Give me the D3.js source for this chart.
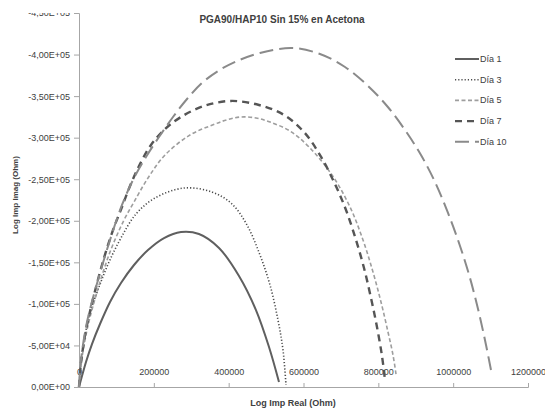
<!DOCTYPE html>
<html>
<head>
<meta charset="utf-8">
<script src="https://cdn.jsdelivr.net/npm/d3@7"></script>
<style>
  body { margin: 0; background: #fff; }
  text { font-family: "Liberation Sans", Arial, sans-serif; fill: #404040; }
</style>
</head>
<body>
<div id="chart-container"></div>
<script>
// values: [real, imag]
const dia1 = [[0,0],[8000,-13200],[18700,-30100],[34700,-51700],[56100,-75800],[82900,-102300],
  [112200,-125100],[147000,-146800],[184400,-164800],[227200,-179200],[272600,-186500],
  [320700,-184100],[374200,-167300],[427600,-133600],[473000,-92600],[507800,-48100],[534500,-6000]];
const dia3 = [[0,0],[5300,-30100],[16000,-62600],[32100,-92600],[53500,-120300],[80200,-150400],
  [112200,-179300],[152300,-208200],[203100,-227400],[280600,-239400],[355500,-234600],
  [408900,-220200],[449000,-194900],[483700,-158800],[510500,-122700],[531800,-80600],
  [545200,-44500],[553200,-2400]];
const dia5 = [[0,0],[5300,-26500],[21400,-68600],[48100,-114300],[82900,-162400],[120300,-200900],
  [147000,-222600],[184400,-251500],[229800,-279100],[296700,-303200],[363500,-316400],
  [398200,-321900],[433000,-324900],[473000,-323700],[510500,-318800],[563900,-308000],
  [614700,-288800],[676200,-255100],[724300,-216600],
  [759000,-176900],[785700,-138400],[807100,-102300],[825800,-66200],[839200,-38500],[847200,-15600]];
const dia7 = [[0,0],[5300,-28900],[18700,-68600],[40100,-110700],[66800,-155200],[90900,-188900],
  [114900,-216600],[136300,-241800],[163000,-268300],[192400,-291200],[229800,-310400],
  [272600,-324900],[334100,-338100],[406200,-344200],[481100,-339300],[547900,-327300],
  [601300,-306800],[644100,-279100],[681500,-246700],[713600,-213000],[740300,-176900],
  [761700,-143200],[780400,-107100],[796400,-72200],[809800,-37300],[817800,-8400]];
const dia10 = [[0,0],[5300,-32500],[21400,-78200],[50800,-128700],[82900,-176900],[114900,-219000],
  [144300,-249100],[179000,-276700],[213800,-300800],[251200,-324900],[288700,-346500],
  [328700,-365800],[371500,-380200],[422300,-392200],[483700,-401900],[569300,-407900],
  [644100,-400700],[710900,-385000],[769700,-363400],[823200,-338100],[871300,-309200],
  [914000,-279100],[951400,-246700],[986200,-209400],[1018300,-169700],[1045000,-131100],
  [1069000,-89000],[1087800,-50500],[1101100,-20500]];

const seriesNames = ["Día 1", "Día 3", "Día 5", "Día 7", "Día 10"];
const yTicks = [0,-50000,-100000,-150000,-200000,-250000,-300000,-350000,-400000,-450000];
const xTicks = [0,200000,400000,600000,800000,1000000,1200000];

const series = [
  { name: seriesNames[0], data: dia1, color: "#5f5f5f", width: 2, dash: null },
  { name: seriesNames[1], data: dia3, color: "#4a4a4a", width: 1.6, dash: "1.2,2" },
  { name: seriesNames[2], data: dia5, color: "#9e9e9e", width: 1.6, dash: "4,2.5" },
  { name: seriesNames[3], data: dia7, color: "#555555", width: 2.4, dash: "7,5" },
  { name: seriesNames[4], data: dia10, color: "#8a8a8a", width: 2, dash: "14,6" }
];

const W = 545, H = 412;
const svg = d3.select('#chart-container').append('svg')
  .attr('width', W).attr('height', H);

const x = d3.scaleLinear().domain([0, 1200000]).range([79, 528]);
const y = d3.scaleLinear().domain([0, -450000]).range([387, 13]);

const fmtY = v => {
  if (v === 0) return "0,00E+00";
  const e = Math.floor(Math.log10(Math.abs(v)));
  const m = (v / Math.pow(10, e)).toFixed(2).replace('.', ',');
  return m + "E+" + String(e).padStart(2, '0');
};

// y axis
const yAxis = svg.append('g')
  .attr('transform', `translate(${x(0)},0)`)
  .call(d3.axisLeft(y).tickValues(yTicks).tickFormat(fmtY).tickSize(5).tickPadding(4));
yAxis.select('.domain').attr('stroke', '#a6a6a6');
yAxis.selectAll('.tick line').attr('stroke', '#a6a6a6');
yAxis.selectAll('text').style('font-size', '9px').attr('fill', '#404040')
  .style('font-family', '"Liberation Sans", Arial, sans-serif');

// x axis: ticks point up, labels sit above the line
const xAxis = svg.append('g')
  .attr('transform', `translate(0,${y(0)})`)
  .call(d3.axisBottom(x).tickValues(xTicks).tickFormat(d => d).tickSize(-4).tickPadding(0));
xAxis.select('.domain').attr('stroke', '#a6a6a6');
xAxis.selectAll('.tick line').attr('stroke', '#a6a6a6');
xAxis.selectAll('text').attr('y', -12).attr('dy', 0)
  .style('font-size', '9px').attr('fill', '#404040')
  .style('font-family', '"Liberation Sans", Arial, sans-serif');

// top label is cut in the original
svg.append('rect').attr('x', 0).attr('y', 0).attr('width', 76).attr('height', 13).attr('fill', '#fff');

const line = d3.line()
  .x(d => x(d[0]))
  .y(d => y(d[1]))
  .curve(d3.curveCatmullRom.alpha(0.5));

svg.selectAll('.curve')
  .data(series)
  .enter()
  .append('path')
  .attr('class', 'curve')
  .attr('d', d => line(d.data))
  .attr('fill', 'none')
  .attr('stroke', d => d.color)
  .attr('stroke-width', d => d.width)
  .attr('stroke-dasharray', d => d.dash);

// legend
const leg = svg.append('g').attr('transform', 'translate(455,59)');
series.forEach((s, i) => {
  const g = leg.append('g').attr('transform', `translate(0,${i * 20.7})`);
  g.append('line').attr('x1', 0).attr('x2', 24).attr('y1', 0).attr('y2', 0)
    .attr('stroke', s.color).attr('stroke-width', s.width)
    .attr('stroke-dasharray', s.dash);
  g.append('text').attr('x', 25).attr('y', 3).style('font-size', '9px').text(s.name);
});

// titles
svg.append('text').attr('x', 282).attr('y', 23).attr('text-anchor', 'middle')
  .style('font-size', '10px').style('font-weight', 'bold').attr('fill', '#333')
  .text('PGA90/HAP10 Sin 15% en Acetona');

svg.append('text').attr('transform', 'translate(18,195) rotate(-90)').attr('text-anchor', 'middle')
  .style('font-size', '8px').style('font-weight', 'bold').attr('fill', '#333')
  .text('Log Imp Imag (Ohm)');

svg.append('text').attr('x', 293).attr('y', 406).attr('text-anchor', 'middle')
  .style('font-size', '9px').style('font-weight', 'bold').attr('fill', '#333')
  .text('Log Imp Real (Ohm)');
</script>
</body>
</html>
